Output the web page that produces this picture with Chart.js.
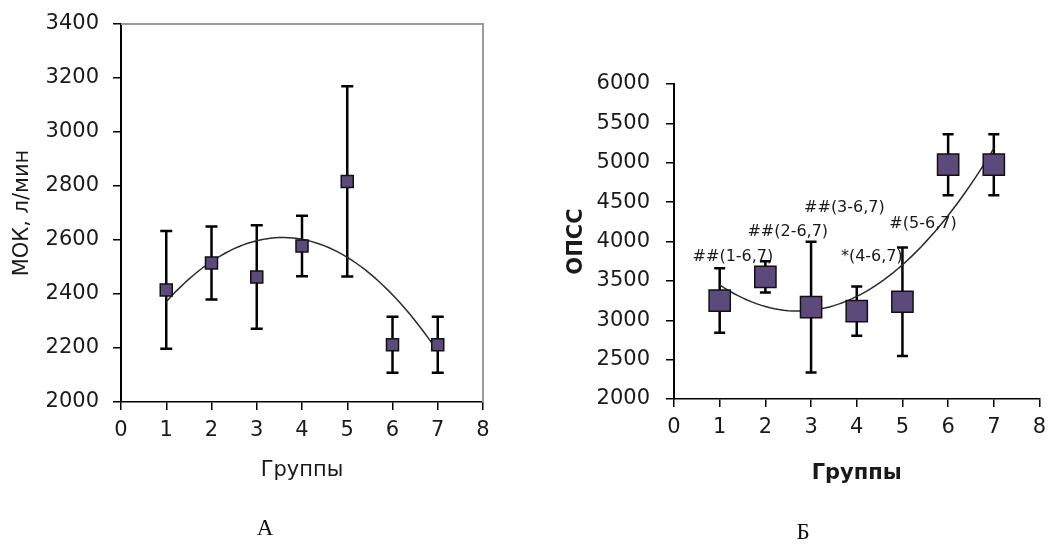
<!DOCTYPE html>
<html lang="ru">
<head>
<meta charset="utf-8">
<title>МОК и ОПСС по группам</title>
<script src="https://cdn.jsdelivr.net/npm/chart.js@4.4.1/dist/chart.umd.min.js"></script>
<style>
    body { margin: 0; background: #fff; }
    #wrap { position: relative; width: 1056px; height: 544px; overflow: hidden; }
    canvas { position: absolute; top: 0; }
    #chart-mok { left: 0; }
    #chart-opss { left: 528px; }
    .panel { position: absolute; font-family: "Liberation Serif", "DejaVu Serif", serif; font-size: 23px; color: #111; transform: translate(-50%, -50%); }
</style>
</head>
<body>
<div id="wrap">
    <canvas id="chart-mok" width="528" height="544"></canvas>
    <canvas id="chart-opss" width="528" height="544"></canvas>
    <div class="panel" style="left:265px; top:528px;">А</div>
    <div class="panel" style="left:803px; top:532px;">Б</div>
</div>
<script>
// Datos
const grupos = [1, 2, 3, 4, 5, 6, 7];

const mokMedia = [2415, 2515, 2463, 2578, 2817, 2212, 2212];
const mokError = [218, 135, 192, 112, 352, 104, 104];

const opssMedia = [3250, 3550, 3168, 3115, 3235, 4975, 4975];
const opssError = [410, 198, 830, 312, 690, 388, 388];

const opssNotas = ['##(1-6,7)', '##(2-6,7)', '##(3-6,7)', '*(4-6,7)', '#(5-6,7)'];

const ticksX = [0, 1, 2, 3, 4, 5, 6, 7, 8];

const COLOR_MARCA = '#5d4a7d';
const COLOR_TEXTO = '#1a1a1a';
const FUENTE = '"DejaVu Sans", "Liberation Sans", Arial, sans-serif';

// Tendencia polinómica de grado 2 (mínimos cuadrados), como la de Excel
function ajusteCuadratico(xs, ys) {
    let s = [0, 0, 0, 0, 0], t = [0, 0, 0];
    xs.forEach((x, i) => {
        for (let k = 0; k < 5; k++) s[k] += Math.pow(x, k);
        for (let k = 0; k < 3; k++) t[k] += Math.pow(x, k) * ys[i];
    });
    const m = [[s[0], s[1], s[2], t[0]], [s[1], s[2], s[3], t[1]], [s[2], s[3], s[4], t[2]]];
    for (let c = 0; c < 3; c++) {
        for (let r = c + 1; r < 3; r++) {
            const f = m[r][c] / m[c][c];
            for (let k = c; k < 4; k++) m[r][k] -= f * m[c][k];
        }
    }
    const b = [0, 0, 0];
    for (let r = 2; r >= 0; r--) {
        let v = m[r][3];
        for (let k = r + 1; k < 3; k++) v -= m[r][k] * b[k];
        b[r] = v / m[r][r];
    }
    return b;
}

function curvaTendencia(xs, ys) {
    const c = ajusteCuadratico(xs, ys);
    const desde = xs[0], hasta = xs[xs.length - 1];
    const pts = [];
    for (let i = 0; i <= 60; i++) {
        const x = desde + (hasta - desde) * i / 60;
        pts.push({ x: x, y: c[0] + c[1] * x + c[2] * x * x });
    }
    return pts;
}

const errorBars = {
    id: 'errorBars',
    beforeDatasetsDraw(chart, args, opts) {
        if (!opts.medias) return;
        const { ctx, scales: { x, y } } = chart;
        ctx.save();
        ctx.strokeStyle = '#000';
        ctx.lineWidth = opts.grosor;
        opts.medias.forEach((m, i) => {
            const px = x.getPixelForValue(grupos[i]);
            const arriba = y.getPixelForValue(m + opts.errores[i]);
            const abajo = y.getPixelForValue(m - opts.errores[i]);
            ctx.beginPath();
            ctx.moveTo(px, arriba);
            ctx.lineTo(px, abajo);
            ctx.moveTo(px - opts.tapa / 2, arriba);
            ctx.lineTo(px + opts.tapa / 2, arriba);
            ctx.moveTo(px - opts.tapa / 2, abajo);
            ctx.lineTo(px + opts.tapa / 2, abajo);
            ctx.stroke();
        });
        ctx.restore();
    }
};

// Marco gris arriba y a la derecha (solo gráfico А)
const marcoGris = {
    id: 'marcoGris',
    beforeDatasetsDraw(chart, args, opts) {
        if (!opts.activo) return;
        const { ctx, chartArea: a } = chart;
        ctx.save();
        ctx.strokeStyle = '#9a9a9a';
        ctx.lineWidth = 2;
        ctx.beginPath();
        ctx.moveTo(a.left, a.top);
        ctx.lineTo(a.right, a.top);
        ctx.lineTo(a.right, a.bottom);
        ctx.stroke();
        ctx.restore();
    }
};

const notas = {
    id: 'notas',
    afterDatasetsDraw(chart, args, opts) {
        if (!opts.textos) return;
        const { ctx, scales: { x, y } } = chart;
        ctx.save();
        ctx.font = '16px ' + FUENTE;
        ctx.fillStyle = COLOR_TEXTO;
        ctx.textAlign = 'center';
        ctx.textBaseline = 'middle';
        opts.textos.forEach((t, i) => {
            ctx.fillText(t, x.getPixelForValue(opts.posX[i]), y.getPixelForValue(opts.posY[i]));
        });
        ctx.restore();
    }
};

function crearGrafico(id, cfg) {
    const ctx = document.getElementById(id);
    return new Chart(ctx, {
        type: 'scatter',
        data: {
            datasets: [{
                data: grupos.map((g, i) => ({ x: g, y: cfg.medias[i] })),
                pointStyle: 'rect',
                pointRadius: cfg.radio,
                backgroundColor: COLOR_MARCA,
                borderColor: '#111',
                borderWidth: 1.5,
                order: 0
            }, {
                data: curvaTendencia(grupos, cfg.medias),
                showLine: true,
                borderColor: '#2a2a2a',
                borderWidth: 1.5,
                pointRadius: 0,
                order: 1
            }]
        },
        options: {
            responsive: false,
            devicePixelRatio: 1,
            animation: false,
            layout: { padding: cfg.padding },
            plugins: {
                legend: { display: false },
                tooltip: { enabled: false },
                errorBars: { medias: cfg.medias, errores: cfg.errores, grosor: 2.5, tapa: cfg.tapa },
                marcoGris: { activo: cfg.marco },
                notas: cfg.notas || {}
            },
            scales: {
                x: {
                    type: 'linear',
                    min: 0,
                    max: 8,
                    afterBuildTicks: s => { s.ticks = ticksX.map(v => ({ value: v })); },
                    afterFit: s => { s.height = cfg.altoX; s.paddingLeft = 0; s.paddingRight = 0; },
                    border: { color: '#000', width: 1.5 },
                    grid: { drawOnChartArea: false, drawTicks: true, tickLength: 8, color: '#000', lineWidth: 1.5 },
                    ticks: { color: COLOR_TEXTO, padding: cfg.padTickX, font: { family: FUENTE, size: 21 }, callback: v => String(v) },
                    title: {
                        display: true,
                        text: 'Группы',
                        color: COLOR_TEXTO,
                        padding: { top: 0, bottom: cfg.padTituloX },
                        font: { family: FUENTE, size: cfg.tamTitulo, weight: cfg.peso }
                    }
                },
                y: {
                    min: cfg.yMin,
                    max: cfg.yMax,
                    afterFit: s => { s.width = cfg.anchoY; s.paddingTop = 0; s.paddingBottom = 0; },
                    border: { color: '#000', width: 2 },
                    grid: { drawOnChartArea: false, drawTicks: true, tickLength: 8, color: '#000', lineWidth: 1.5 },
                    ticks: { stepSize: cfg.paso, color: COLOR_TEXTO, padding: cfg.padTickY, font: { family: FUENTE, size: 21 }, callback: v => String(v) },
                    title: {
                        display: true,
                        text: cfg.tituloY,
                        color: COLOR_TEXTO,
                        padding: { top: cfg.padTituloY, bottom: 0 },
                        font: { family: FUENTE, size: cfg.tamTitulo, weight: cfg.peso }
                    }
                }
            }
        },
        plugins: [errorBars, marcoGris, notas]
    });
}

document.addEventListener('DOMContentLoaded', function() {
    crearGrafico('chart-mok', {
        medias: mokMedia,
        errores: mokError,
        radio: 8.5,
        tapa: 12,
        marco: true,
        yMin: 2000, yMax: 3400, paso: 200,
        tituloY: 'МОК, л/мин',
        tamTitulo: 21, peso: 'normal',
        padding: { left: 0, top: 24, right: 45, bottom: 0 },
        anchoY: 121, padTickY: 14, padTituloY: 10,
        altoX: 142, padTickX: 8, padTituloX: 61,
        notas: {}
    });

    crearGrafico('chart-opss', {
        medias: opssMedia,
        errores: opssError,
        radio: 15,
        tapa: 11,
        marco: false,
        yMin: 2000, yMax: 6000, paso: 500,
        tituloY: 'ОПСС',
        tamTitulo: 21, peso: 'bold',
        padding: { left: 0, top: 84, right: 9, bottom: 0 },
        anchoY: 146, padTickY: 16, padTituloY: 36,
        altoX: 145, padTickX: 8, padTituloX: 58,
        notas: {
            textos: opssNotas,
            posX: [1.29, 2.49, 3.73, 4.33, 5.45],
            posY: [3800, 4120, 4425, 3800, 4222]
        }
    });
});
</script>
</body>
</html>
